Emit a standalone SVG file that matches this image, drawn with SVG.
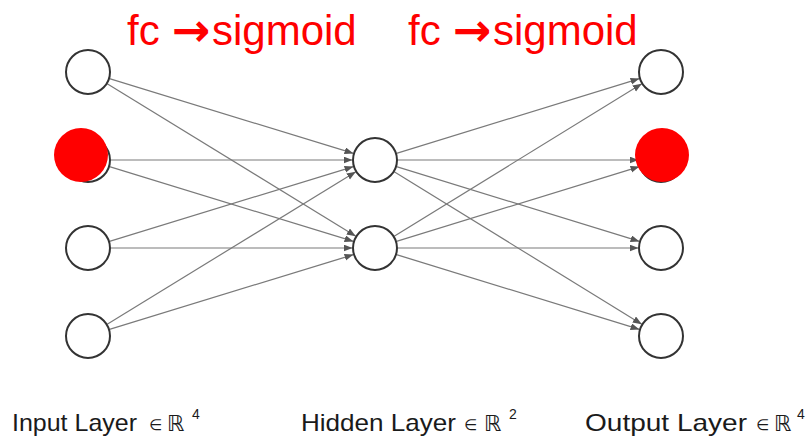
<svg xmlns="http://www.w3.org/2000/svg" width="807" height="439" viewBox="0 0 807 439">
<style>
.node{fill:#fff;stroke:#333;stroke-width:2}
.hot{fill:#ff0000;stroke:none}
.edge{stroke:#7a7a7a;stroke-width:1.2;fill:none;marker-end:url(#ah)}
.title{font-family:"Liberation Sans",Arial,sans-serif;font-size:42px;fill:#ff0000}
.arr{font-family:"DejaVu Sans",sans-serif;font-size:46px;font-weight:bold;fill:#ff0000}
.lbl{font-family:"Liberation Sans",Arial,sans-serif;font-size:24px;fill:#1a1a1a}
.el{font-family:"DejaVu Sans",sans-serif;font-size:15px;fill:#1a1a1a}
.sym{font-family:"DejaVu Sans",sans-serif;font-size:22px;fill:#1a1a1a}
.sup{font-family:"Liberation Sans",Arial,sans-serif;font-size:14px;fill:#1a1a1a}
</style>
<defs>
<marker id="ah" markerUnits="userSpaceOnUse" markerWidth="10" markerHeight="8" refX="9" refY="3.5" orient="auto">
<path d="M0,0 L9,3.5 L0,7 z" fill="#555"/>
</marker>
</defs>
<g id="connectors">
<line class="edge" x1="109.5" y1="78.6" x2="353.5" y2="153.4"/>
<line class="edge" x1="107.2" y1="83.8" x2="355.8" y2="236.2"/>
<line class="edge" x1="110.5" y1="160" x2="352.5" y2="160"/>
<line class="edge" x1="109.5" y1="166.6" x2="353.5" y2="241.4"/>
<line class="edge" x1="109.5" y1="241.4" x2="353.5" y2="166.6"/>
<line class="edge" x1="110.5" y1="248" x2="352.5" y2="248"/>
<line class="edge" x1="107.2" y1="324.2" x2="355.8" y2="171.8"/>
<line class="edge" x1="109.5" y1="329.4" x2="353.5" y2="254.6"/>
<line class="edge" x1="396.5" y1="153.4" x2="639.5" y2="78.6"/>
<line class="edge" x1="397.5" y1="160" x2="638.5" y2="160"/>
<line class="edge" x1="396.5" y1="166.6" x2="639.5" y2="241.4"/>
<line class="edge" x1="394.2" y1="171.8" x2="641.8" y2="324.2"/>
<line class="edge" x1="394.2" y1="236.2" x2="641.8" y2="83.8"/>
<line class="edge" x1="396.5" y1="241.4" x2="639.5" y2="166.6"/>
<line class="edge" x1="397.5" y1="248" x2="638.5" y2="248"/>
<line class="edge" x1="396.5" y1="254.6" x2="639.5" y2="329.4"/>
</g>
<g id="in1"><circle class="node" cx="88" cy="72" r="22"/></g>
<g id="in2"><circle class="node" cx="88" cy="160" r="22"/><circle class="hot" cx="81" cy="155" r="27"/></g>
<g id="in3"><circle class="node" cx="88" cy="248" r="22"/></g>
<g id="in4"><circle class="node" cx="88" cy="336" r="22"/></g>
<g id="h1"><circle class="node" cx="375" cy="160" r="22"/></g>
<g id="h2"><circle class="node" cx="375" cy="248" r="22"/></g>
<g id="out1"><circle class="node" cx="661" cy="72" r="22"/></g>
<g id="out2"><circle class="node" cx="661" cy="160" r="22"/><circle class="hot" cx="662" cy="155" r="27"/></g>
<g id="out3"><circle class="node" cx="661" cy="248" r="22"/></g>
<g id="out4"><circle class="node" cx="661" cy="336" r="22"/></g>
<g id="title1">
<text class="title" x="127" y="45">fc</text>
<text class="arr" x="172" y="46">→</text>
<text class="title" x="212" y="45">sigmoid</text>
</g>
<g id="title2">
<text class="title" x="408" y="45">fc</text>
<text class="arr" x="453" y="46">→</text>
<text class="title" x="493" y="45">sigmoid</text>
</g>
<g id="label-input">
<text class="lbl" x="12" y="431" textLength="125" lengthAdjust="spacingAndGlyphs">Input Layer</text>
<text class="el" x="149" y="430">∈</text>
<text class="sym" x="167" y="431">ℝ</text>
<text class="sup" x="192" y="419">4</text>
</g>
<g id="label-hidden">
<text class="lbl" x="301" y="431" textLength="155" lengthAdjust="spacingAndGlyphs">Hidden Layer</text>
<text class="el" x="464" y="430">∈</text>
<text class="sym" x="484" y="431">ℝ</text>
<text class="sup" x="509" y="419">2</text>
</g>
<g id="label-output">
<text class="lbl" x="585" y="431" textLength="162" lengthAdjust="spacingAndGlyphs">Output Layer</text>
<text class="el" x="756" y="430">∈</text>
<text class="sym" x="774" y="431">ℝ</text>
<text class="sup" x="797" y="419">4</text>
</g>
</svg>
